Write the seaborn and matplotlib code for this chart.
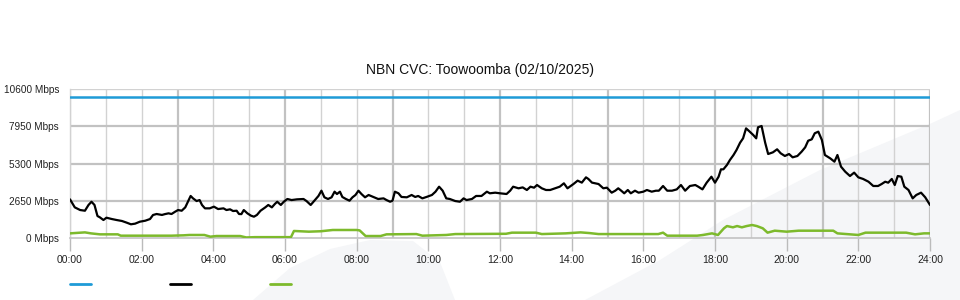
import matplotlib
matplotlib.use("Agg")
import matplotlib.pyplot as plt
from matplotlib.patches import Polygon
from matplotlib.lines import Line2D
import seaborn as sns
import pandas as pd

# ---------------- data ----------------
black_min = [0, 8, 17, 25, 31, 36, 41, 46, 50, 56, 61, 70, 78, 87, 95, 102, 109, 117, 126, 134,
             139, 145, 154, 159, 165, 170, 176, 181, 187, 193, 198, 202, 206, 212, 217, 221, 226, 234,
             241, 248, 257, 262, 268, 273, 279, 283, 287, 291, 297, 303, 308, 313, 319, 327, 332, 338,
             343, 347, 353, 358, 364, 371, 380, 391, 396, 403, 410, 416, 421, 426, 432, 438, 443, 447,
             452, 456, 462, 468, 473, 478, 483, 488, 494, 500, 508, 516, 525, 530, 536, 540, 544, 550,
             555, 564, 572, 578, 583, 590, 597, 606, 612, 618, 624, 630, 636, 645, 653, 659, 664, 673,
             680, 689, 698, 703, 712, 720, 731, 737, 742, 751, 758, 765, 771, 777, 782, 790, 797, 804,
             812, 820, 827, 833, 843, 850, 857, 864, 868, 874, 885, 893, 899, 907, 913, 918, 923, 928,
             934, 939, 946, 952, 960, 966, 974, 981, 986, 993, 1000, 1008, 1016, 1023, 1030, 1038, 1047,
             1052, 1059, 1066, 1074, 1080, 1086, 1090, 1094, 1100, 1105, 1111, 1116, 1122, 1127, 1132,
             1137, 1144, 1149, 1152, 1158, 1164, 1169, 1177, 1184, 1190, 1197, 1204, 1210, 1218, 1225,
             1231, 1236, 1242, 1247, 1253, 1259, 1264, 1273, 1280, 1285, 1291, 1298, 1306, 1313, 1320,
             1328, 1337, 1345, 1353, 1359, 1365, 1370, 1376, 1381, 1386, 1392, 1397, 1404, 1411, 1417,
             1425, 1432, 1440]
black_mbps = [2750, 2180, 1990, 1940, 2350, 2580, 2350, 1565, 1470, 1280, 1445, 1350, 1280, 1210, 1090,
              975, 1020, 1160, 1230, 1350, 1636, 1707, 1640, 1700, 1755, 1707, 1870, 1990, 1940, 2180,
              2630, 2990, 2820, 2630, 2700, 2350, 2110, 2110, 2230, 2060, 2110, 1990, 2040, 1920, 1940,
              1707, 1700, 1990, 1755, 1590, 1515, 1640, 1940, 2180, 2350, 2180, 2420, 2580, 2350, 2580,
              2775, 2700, 2750, 2775, 2630, 2350, 2700, 2990, 3365, 2895, 2775, 2895, 3295, 3130, 3295,
              2920, 2775, 2655, 2895, 3060, 3365, 3130, 2895, 3060, 2920, 2775, 2820, 2700, 2580, 2655,
              3295, 3180, 2920, 2895, 3060, 2920, 2990, 2820, 2920, 3060, 3295, 3650, 3365, 2820, 2775,
              2630, 2580, 2820, 2700, 2775, 2990, 2990, 3295, 3180, 3225, 3180, 3130, 3365, 3650, 3535,
              3600, 3415, 3650, 3580, 3770, 3535, 3415, 3415, 3535, 3650, 3890, 3535, 3840, 4080, 3940,
              4315, 4200, 3940, 3840, 3535, 3580, 3225, 3365, 3535, 3365, 3180, 3415, 3180, 3365, 3225,
              3295, 3415, 3295, 3365, 3365, 3700, 3365, 3365, 3460, 3770, 3365, 3700, 3770, 3650, 3460,
              3935, 4360, 3935, 4360, 4885, 4885, 5195, 5550, 5905, 6260, 6780, 7090, 7800, 7610, 7330,
              7090, 7875, 7970, 6780, 5975, 6095, 6310, 6025, 5835, 5975, 5740, 5835, 6140, 6450, 6920,
              7020, 7450, 7565, 6970, 5905, 5665, 5430, 5905, 5075, 4720, 4410, 4650, 4315, 4200, 4005,
              3700, 3700, 3840, 4005, 3935, 4200, 3770, 4410, 4360, 3650, 3415, 2820, 3060, 3225, 2895,
              2350]

green_min = [0, 25, 35, 50, 80, 85, 170, 190, 200, 225, 235, 245, 285, 295, 310, 370, 375, 400, 420,
             440, 480, 485, 495, 520, 530, 580, 590, 630, 645, 730, 740, 780, 790, 830, 855, 870, 885,
             985, 993, 1000, 1050, 1060, 1075, 1085, 1095, 1100, 1110, 1117, 1125, 1133, 1142, 1150,
             1160, 1168, 1180, 1200, 1220, 1250, 1265, 1278, 1285, 1300, 1320, 1332, 1400, 1415, 1430,
             1440]
green_mbps = [330, 400, 330, 260, 260, 165, 165, 190, 215, 215, 95, 140, 140, 40, 60, 60, 500, 450, 480,
              570, 570, 540, 140, 140, 260, 280, 165, 215, 280, 300, 380, 380, 280, 330, 400, 350, 280,
              280, 380, 165, 165, 215, 330, 215, 690, 850, 760, 850, 760, 850, 925, 850, 690, 380, 520,
              450, 520, 520, 520, 520, 330, 280, 215, 380, 380, 260, 330, 330]

blue_min = [0, 1440]
blue_mbps = [10000, 10000]

y_ticks = [0, 2650, 5300, 7950, 10600]
x_tick_labels = ["00:00", "02:00", "04:00", "06:00", "08:00", "10:00", "12:00",
                 "14:00", "16:00", "18:00", "20:00", "22:00", "24:00"]
title = "NBN CVC: Toowoomba (02/10/2025)"

BLUE = "#1e9bd7"
BLACK = "#000000"
GREEN = "#7dba2c"

# ---------------- figure ----------------
sns.set_theme(style="white")
plt.rcParams["font.family"] = ["Liberation Sans", "DejaVu Sans"]

fig = plt.figure(figsize=(9.6, 3.0), dpi=100)
W, H = 960.0, 300.0

def fxy(px, py):
    return (px / W, 1 - py / H)

# faint watermark swoosh in the background
wm = "#f5f6f8"
polyA = [fxy(*p) for p in [(585, 300), (660, 260), (723, 220), (820, 170), (932, 123), (960, 110), (960, 300)]]
polyB = [fxy(*p) for p in [(253, 300), (290, 268), (330, 249), (370, 240), (413, 241), (440, 262), (455, 300)]]
for poly in (polyA, polyB):
    fig.patches.append(Polygon(poly, closed=True, transform=fig.transFigure, facecolor=wm,
                               edgecolor="none", zorder=-10))

ax = fig.add_axes([70 / W, 1 - 238 / H, 860 / W, 149 / H])
ax.set_facecolor("none")
ax.set_zorder(5)

# grid
for m in range(0, 1441, 60):
    h = m // 60
    if h % 3 == 0:
        ax.axvline(m, color="#c2c2c2", lw=1.6, zorder=1)
    else:
        ax.axvline(m, color="#d2d2d2", lw=1.0, zorder=1)
for yv in y_ticks[1:-1]:
    ax.axhline(yv, color="#c2c2c2", lw=1.6, zorder=1)
ax.axhline(y_ticks[-1], color="#d2d2d2", lw=1.0, zorder=1)

blue_df = pd.DataFrame({"t": blue_min, "v": blue_mbps})
black_df = pd.DataFrame({"t": black_min, "v": black_mbps})
green_df = pd.DataFrame({"t": green_min, "v": green_mbps})

sns.lineplot(data=blue_df, x="t", y="v", color=BLUE, lw=1.8, ax=ax, zorder=3)
sns.lineplot(data=black_df, x="t", y="v", color=BLACK, lw=1.6, ax=ax, zorder=4)
sns.lineplot(data=green_df, x="t", y="v", color=GREEN, lw=1.8, ax=ax, zorder=3)

ax.set_xlim(0, 1440)
ax.set_ylim(0, 10600)
ax.set_xlabel("")
ax.set_ylabel("")

ax.set_xticks(range(0, 1441, 120))
ax.set_xticklabels(x_tick_labels, fontsize=7.5, color="#222222")
ax.set_yticks(y_ticks)
ax.set_yticklabels([f"{v} Mbps" for v in y_ticks], fontsize=7.2, color="#222222")
ax.tick_params(axis="x", length=9, width=1, color="#bbbbbb", pad=3, bottom=True)
ax.tick_params(axis="y", length=0, pad=8)

for side in ["top", "right"]:
    ax.spines[side].set_visible(False)
ax.spines["left"].set_color("#d2d2d2")
ax.spines["left"].set_linewidth(1.0)
ax.spines["bottom"].set_color("#c2c2c2")
ax.spines["bottom"].set_linewidth(1.2)

fig.text(0.5, 1 - 70 / H, title, ha="center", va="center", fontsize=10, color="#111111")

handles = [Line2D([], [], color=c, lw=2) for c in (BLUE, BLACK, GREEN)]
fig.legend(handles, ["", "", ""], ncol=3, frameon=False, loc="center left",
           bbox_to_anchor=(70 / W, 1 - 285 / H), borderaxespad=0, borderpad=0,
           handlelength=2.0, handletextpad=0.0, columnspacing=7.6, fontsize=7.5)

fig.savefig("out.png", dpi=100)
